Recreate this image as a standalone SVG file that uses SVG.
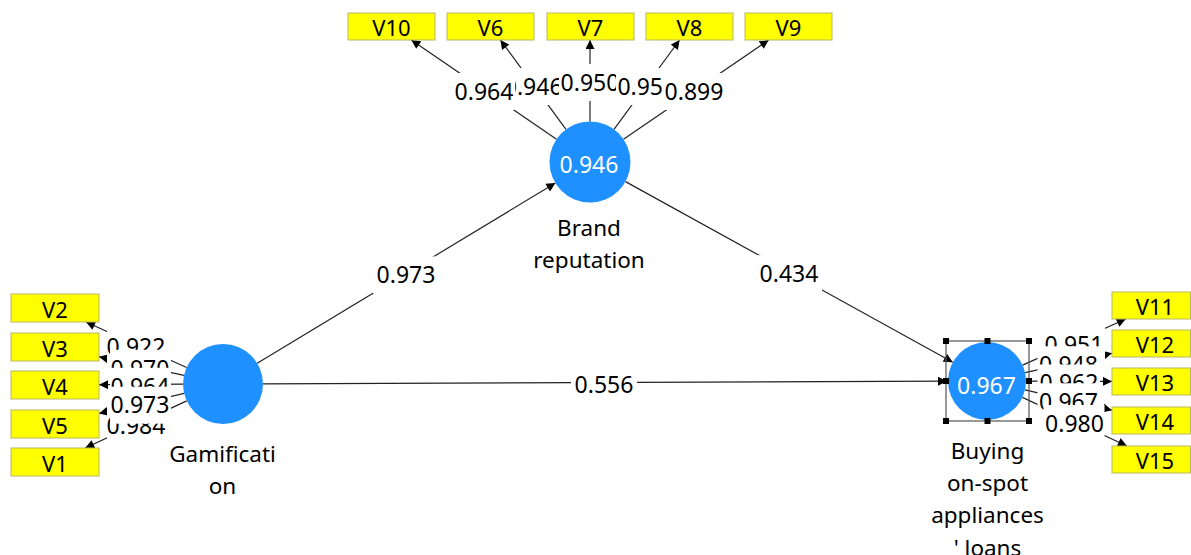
<svg xmlns="http://www.w3.org/2000/svg" width="1191" height="555" viewBox="0 0 1191 555">
<defs>
<marker id="arr" viewBox="0 0 10 10" refX="10" refY="5" markerWidth="10" markerHeight="9" markerUnits="userSpaceOnUse" orient="auto"><path d="M0,0 L10,5 L0,10 z" fill="#000"/></marker>
<style>
.ln{stroke:#222;stroke-width:1.2;fill:none;marker-end:url(#arr)}
.box{fill:#ffff00;stroke:#b8b860;stroke-width:1}
.bt{font-family:"Noto Sans","Open Sans",sans-serif;font-size:22px;fill:#000;text-anchor:middle}
.lbg{fill:#fff}
.lt{font-family:"Noto Sans","Open Sans",sans-serif;font-size:23px;fill:#000;text-anchor:middle}
.lv{font-family:"Noto Sans","Open Sans",sans-serif;font-size:23px;fill:#fff;text-anchor:middle}
.nm{font-family:"Noto Sans","Open Sans",sans-serif;font-size:22.5px;fill:#000;text-anchor:middle}
.lv-circ{fill:#1e90ff}
.hd{fill:#000}
</style>
</defs>
<rect width="1191" height="555" fill="#fff"/>
<g id="connectors">
<path class="ln" d="M257.2,363.3 L555.4,183"/>
<path class="ln" d="M625.5,181.6 L952.8,362.2"/>
<path class="ln" d="M263,383.8 L947,381.2"/>
<path class="ln" d="M556.5,139.2 L411.3,40"/>
<path class="ln" d="M566,129.4 L500.4,40"/>
<path class="ln" d="M590,121.5 L590,40"/>
<path class="ln" d="M614,129.4 L679.6,40"/>
<path class="ln" d="M623.5,139.2 L768.7,40"/>
<path class="ln" d="M186.6,367.5 L86,322"/>
<path class="ln" d="M183.9,375.4 L99,356.7"/>
<path class="ln" d="M183,384.2 L99,384.7"/>
<path class="ln" d="M184.1,393.3 L99,413.5"/>
<path class="ln" d="M186.7,400.9 L85.2,448"/>
<path class="ln" d="M1022.6,365.1 L1125.8,319"/>
<path class="ln" d="M1025.1,372.6 L1112,353.3"/>
<path class="ln" d="M1026,381.1 L1112,381.4"/>
<path class="ln" d="M1025,389.9 L1112,410.2"/>
<path class="ln" d="M1022.4,397.4 L1126.9,446"/>
</g>
<g id="edge-labels">
<g><rect class="lbg" x="373" y="256.4" width="66" height="37"/><text class="lt" x="406" y="283">0.973</text></g>
<g><rect class="lbg" x="756" y="255.2" width="66" height="37"/><text class="lt" x="789" y="282">0.434</text></g>
<g><rect class="lbg" x="571" y="365.8" width="66" height="37"/><text class="lt" x="604" y="392.5">0.556</text></g>
<g><rect class="lbg" x="502" y="68" width="62" height="37"/><text class="lt" x="533.2" y="94.7">0.946</text></g>
<g><rect class="lbg" x="453" y="73" width="62" height="37"/><text class="lt" x="484" y="99.6">0.964</text></g>
<g><rect class="lbg" x="559" y="64" width="62" height="37"/><text class="lt" x="590" y="90.7">0.950</text></g>
<g><rect class="lbg" x="616" y="68" width="62" height="37"/><text class="lt" x="617.4" y="94.7" style="text-anchor:start">0.95</text></g>
<g><rect class="lbg" x="663" y="73" width="62" height="37"/><text class="lt" x="694" y="99.6">0.899</text></g>
<g><rect class="lbg" x="107" y="328.3" width="60" height="37"/><text class="lt" x="136" y="355">0.922</text></g>
<g><rect class="lbg" x="110" y="349.8" width="61" height="37"/><text class="lt" x="140" y="376.5">0.970</text></g>
<g><rect class="lbg" x="110" y="367.8" width="61" height="37"/><text class="lt" x="140" y="394.5">0.964</text></g>
<g><rect class="lbg" x="107" y="407.7" width="60" height="37"/><text class="lt" x="136" y="434.4">0.984</text></g>
<g><rect class="lbg" x="110" y="386.7" width="61" height="37"/><text class="lt" x="140" y="413.4">0.973</text></g>
<g><rect class="lbg" x="1043" y="326" width="62" height="37"/><text class="lt" x="1074" y="352.5">0.951</text></g>
<g><rect class="lbg" x="1037.5" y="346.3" width="62" height="37"/><text class="lt" x="1068.5" y="373">0.948</text></g>
<g><rect class="lbg" x="1038" y="364.5" width="62" height="37"/><text class="lt" x="1069" y="391.2">0.962</text></g>
<g><rect class="lbg" x="1037.5" y="383.3" width="62" height="37"/><text class="lt" x="1068.5" y="410">0.967</text></g>
<g><rect class="lbg" x="1043.5" y="405" width="61" height="37"/><text class="lt" x="1074.5" y="431.7">0.980</text></g>
</g>
<g id="brand-reputation">
<circle class="lv-circ" cx="590" cy="162" r="40.5"/>
<text class="lv" x="589" y="172.5">0.946</text>
<text class="nm" x="589" y="236">Brand</text>
<text class="nm" x="589" y="268">reputation</text>
</g>
<g id="gamification">
<circle class="lv-circ" cx="223" cy="384" r="40"/>
<text class="nm" x="222.5" y="462">Gamificati</text>
<text class="nm" x="222.5" y="494">on</text>
</g>
<g id="buying">
<circle class="lv-circ" cx="987" cy="381" r="39"/>
<text class="lv" x="986.5" y="393.5">0.967</text>
<text class="nm" x="987.5" y="458.5">Buying</text>
<text class="nm" x="987.5" y="490.5">on-spot</text>
<text class="nm" x="987.5" y="523">appliances</text>
<text class="nm" x="987.5" y="555.5">' loans</text>
<rect x="946" y="341" width="83" height="80" fill="none" stroke="#555" stroke-width="1.2"/>
<rect class="hd" x="943" y="338" width="6" height="6"/>
<rect class="hd" x="984.5" y="338" width="6" height="6"/>
<rect class="hd" x="1026" y="338" width="6" height="6"/>
<rect class="hd" x="943" y="378" width="6" height="6"/>
<rect class="hd" x="1026" y="378" width="6" height="6"/>
<rect class="hd" x="943" y="418" width="6" height="6"/>
<rect class="hd" x="984.5" y="418" width="6" height="6"/>
<rect class="hd" x="1026" y="418" width="6" height="6"/>
</g>
<g id="V10"><rect class="box" x="348" y="13" width="87" height="27"/><text class="bt" x="391.5" y="36">V10</text></g>
<g id="V6"><rect class="box" x="447" y="13" width="87" height="27"/><text class="bt" x="490.5" y="36">V6</text></g>
<g id="V7"><rect class="box" x="547" y="13" width="87" height="27"/><text class="bt" x="590.5" y="36">V7</text></g>
<g id="V8"><rect class="box" x="646" y="13" width="87" height="27"/><text class="bt" x="689.5" y="36">V8</text></g>
<g id="V9"><rect class="box" x="745" y="13" width="87" height="27"/><text class="bt" x="788.5" y="36">V9</text></g>
<g id="V2"><rect class="box" x="11" y="294" width="88" height="28"/><text class="bt" x="55" y="317.5">V2</text></g>
<g id="V3"><rect class="box" x="11" y="333" width="88" height="28"/><text class="bt" x="55" y="356.5">V3</text></g>
<g id="V4"><rect class="box" x="11" y="371" width="88" height="28"/><text class="bt" x="55" y="394.5">V4</text></g>
<g id="V5"><rect class="box" x="11" y="410" width="88" height="28"/><text class="bt" x="55" y="433.5">V5</text></g>
<g id="V1"><rect class="box" x="11" y="448" width="88" height="28"/><text class="bt" x="55" y="471.5">V1</text></g>
<g id="V11"><rect class="box" x="1112" y="292" width="78.5" height="27"/><text class="bt" x="1155" y="314.5">V11</text></g>
<g id="V12"><rect class="box" x="1112" y="330" width="78.5" height="27"/><text class="bt" x="1155" y="352.5">V12</text></g>
<g id="V13"><rect class="box" x="1112" y="368" width="78.5" height="27"/><text class="bt" x="1155" y="390.5">V13</text></g>
<g id="V14"><rect class="box" x="1112" y="407" width="78.5" height="27"/><text class="bt" x="1155" y="429.5">V14</text></g>
<g id="V15"><rect class="box" x="1112" y="446" width="78.5" height="27"/><text class="bt" x="1155" y="468.5">V15</text></g>
</svg>
